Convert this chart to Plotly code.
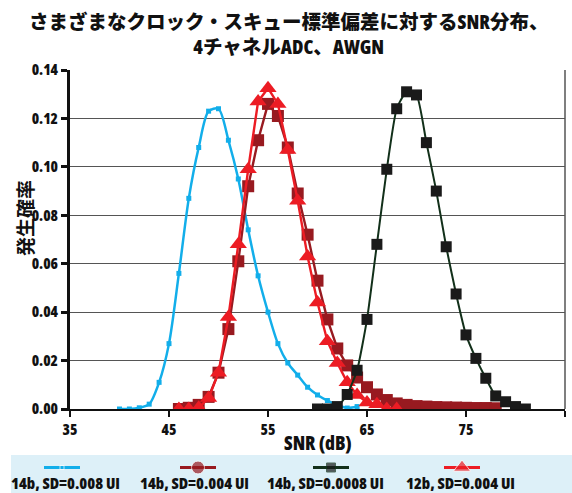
import plotly.graph_objects as go

W, H = 572, 493
LAT = "Open Sans, Noto Sans CJK JP, sans-serif"
INK = "#111"

# SNR distribution per configuration
blue_x = [40, 41, 42, 43, 44, 45, 46, 47, 48, 49, 50, 51, 52, 53, 54, 55, 56,
          57, 58, 59, 60, 61, 62, 63, 64]
blue_y = [0.0, 0.0, 0.0005, 0.002, 0.011, 0.027, 0.056, 0.087, 0.108, 0.123,
          0.124, 0.111, 0.095, 0.074, 0.055, 0.040, 0.027, 0.019, 0.014, 0.009,
          0.0058, 0.0035, 0.0017, 0.0004, 0.001]

dred_x = list(range(46, 79))
dred_y = [0.0, 0.0005, 0.0017, 0.005, 0.015, 0.033, 0.061, 0.092, 0.111, 0.126,
          0.121, 0.108, 0.089, 0.072, 0.053, 0.037, 0.025, 0.018, 0.013, 0.009,
          0.006, 0.0037, 0.0023, 0.0017, 0.0012, 0.001, 0.0008, 0.0007, 0.0006,
          0.0005, 0.0004, 0.0004, 0.0003]

red_x = list(range(46, 69))
red_y = [0.0, 0.0, 0.0005, 0.0045, 0.015, 0.038, 0.068, 0.099, 0.127, 0.1325,
         0.126, 0.107, 0.086, 0.063, 0.044, 0.028, 0.019, 0.011, 0.0058, 0.0027,
         0.002, 0.0, 0.0]

black_x = list(range(60, 82))
black_y = [0.0, 0.0, 0.001, 0.006, 0.016, 0.037, 0.068, 0.099, 0.124, 0.131,
           0.1297, 0.110, 0.090, 0.067, 0.0475, 0.0306, 0.0209, 0.0127, 0.0054,
           0.003, 0.001, 0.0]

series_names = ["14b, SD=0.008 UI", "14b, SD=0.004 UI",
                "14b, SD=0.0008 UI", "12b, SD=0.004 UI"]
x_ticks = [35, 45, 55, 65, 75, 85]
y_ticks = [0.0, 0.02, 0.04, 0.06, 0.08, 0.10, 0.12, 0.14]


def narrow(s, pct=75):
    return "<span style='font-stretch:%d%%'>%s</span>" % (pct, s)


BLUE, DRED, RED, BLACK, DGREEN = "#12aeea", "#981a20", "#ec1c24", "#1a1a1a", "#12301a"

fig = go.Figure()

fig.add_trace(go.Scatter(x=blue_x, y=blue_y, mode="lines+markers",
                         line=dict(color=BLUE, width=2.5, shape="spline", smoothing=0.8),
                         marker=dict(symbol="square", size=5, color=BLUE),
                         name=series_names[0], showlegend=False))
fig.add_trace(go.Scatter(x=dred_x, y=dred_y, mode="lines+markers",
                         line=dict(color=DRED, width=2.4),
                         marker=dict(symbol="square", size=12, color=DRED),
                         name=series_names[1], showlegend=False))
fig.add_trace(go.Scatter(x=red_x, y=red_y, mode="lines+markers",
                         line=dict(color=RED, width=2.4),
                         marker=dict(symbol="triangle-up", size=15, color=RED),
                         name=series_names[3], showlegend=False))
fig.add_trace(go.Scatter(x=black_x, y=black_y, mode="lines+markers",
                         line=dict(color=DGREEN, width=2, shape="spline", smoothing=0.5),
                         marker=dict(symbol="square", size=11, color=BLACK),
                         name=series_names[2], showlegend=False))

# Legend band drawn on its own pixel-scaled axes below the plot
leg_cx = [62, 198, 331, 462]
leg_tx = [65, 195, 325, 460]
leg_colors = [BLUE, DRED, DGREEN, RED]
leg_mcolors = [BLUE, DRED, BLACK, RED]
leg_symbols = ["square", "circle", "square", "triangle-up"]
leg_sizes = [4, 13, 9, 15]
for cx, lc, mc, sym, sz in zip(leg_cx, leg_colors, leg_mcolors, leg_symbols, leg_sizes):
    fig.add_trace(go.Scatter(x=[cx - 18, cx, cx + 18], y=[467.5, 467.5, 467.5],
                             mode="lines+markers", xaxis="x2", yaxis="y2",
                             line=dict(color=lc, width=3),
                             marker=dict(symbol=sym, size=[0, sz, 0], color=mc),
                             cliponaxis=False, showlegend=False, hoverinfo="skip"))

annotations = [
    dict(text=narrow("さまざまなクロック・スキュー標準偏差に対するSNR分布、<br>4チャネルADC、AWGN"),
         x=288 / W, y=1 - 34 / H, xref="paper", yref="paper", showarrow=False,
         xanchor="center", yanchor="middle",
         font=dict(family=LAT, size=19.5, color=INK, weight=800)),
    dict(text=narrow("SNR (dB)"), x=318 / W, y=1 - 443 / H, xref="paper", yref="paper",
         showarrow=False, xanchor="center", yanchor="middle",
         font=dict(family=LAT, size=19, color=INK, weight=800)),
    dict(text="発生確率", x=24 / W, y=1 - 218 / H, xref="paper", yref="paper",
         showarrow=False, textangle=-90, xanchor="center", yanchor="middle",
         font=dict(family="Noto Sans CJK JP", size=19, color=INK, weight="bold")),
]
for tx, name in zip(leg_tx, series_names):
    annotations.append(dict(text=narrow(name), x=tx / W, y=1 - 483 / H,
                            xref="paper", yref="paper", showarrow=False,
                            xanchor="center", yanchor="middle",
                            font=dict(family=LAT, size=16, color=INK, weight=800)))

shapes = [
    dict(type="rect", xref="paper", yref="paper", x0=11 / W, x1=1, y0=0, y1=38 / H,
         fillcolor="#ddf0f8", line=dict(width=0), layer="below"),
    dict(type="line", xref="paper", yref="paper", x0=565 / W, x1=565 / W,
         y0=84 / H, y1=423 / H, line=dict(color="#555", width=1.5)),
]

tickfont = dict(family=LAT, size=15, color=INK, weight=800)

fig.update_layout(
    width=W, height=H,
    margin=dict(l=0, r=0, t=0, b=0),
    paper_bgcolor="white", plot_bgcolor="white",
    annotations=annotations, shapes=shapes,
    xaxis=dict(domain=[70 / W, 565 / W], range=[35, 85], tickvals=x_ticks,
               ticktext=[narrow(str(v), 80) for v in x_ticks],
               automargin=False,
               showgrid=False, zeroline=False, showline=True, linecolor=INK,
               linewidth=1.5, ticks="outside", ticklen=6, tickwidth=2, tickcolor=INK,
               tickfont=tickfont),
    yaxis=dict(domain=[84 / H, 423 / H], range=[0, 0.14], tickvals=y_ticks,
               ticktext=[narrow("%.2f" % v, 80) for v in y_ticks],
               automargin=False,
               showgrid=True, gridcolor="#555", gridwidth=1.2,
               zeroline=False, showline=True, linecolor=INK, linewidth=3,
               ticks="outside", ticklen=6, tickwidth=2.5, tickcolor=INK,
               tickfont=tickfont),
    xaxis2=dict(domain=[0, 1], range=[0, W], visible=False, anchor="y2", automargin=False),
    yaxis2=dict(domain=[0, 38 / H], range=[H, H - 38], visible=False, anchor="x2",
                automargin=False),
)

fig.write_html("out.html")
